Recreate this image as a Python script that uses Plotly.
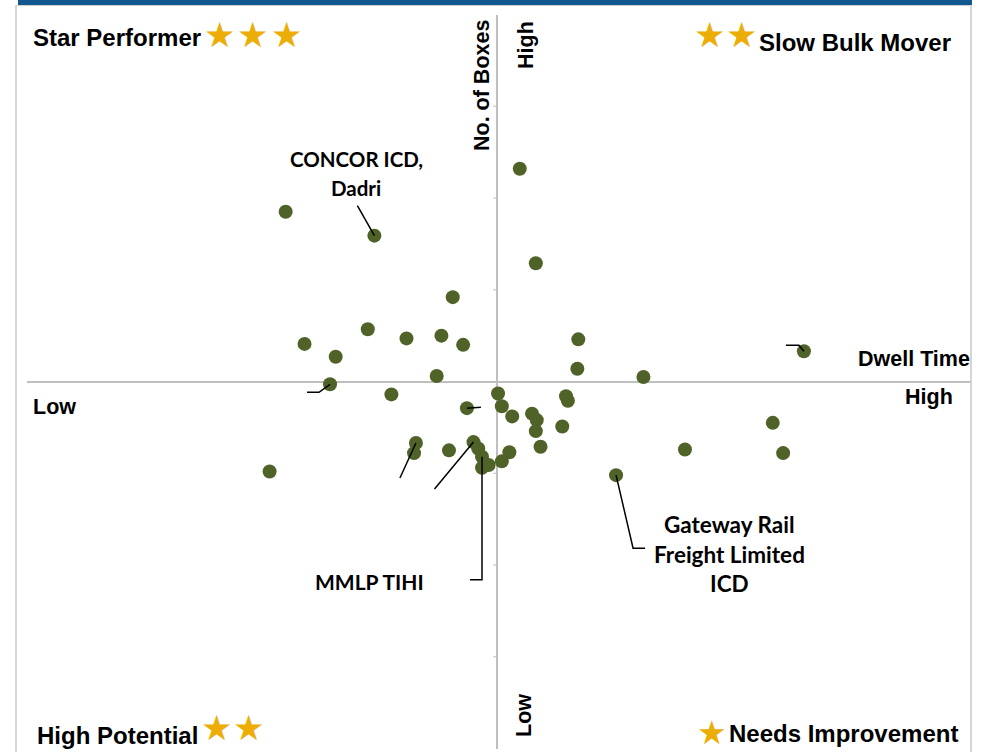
import plotly.graph_objects as go

# ---- data (relative units: x = dwell time, y = no. of boxes; 0 = average) ----
dwell = [-22.4, -13.0, -4.7, -20.4, -17.1, -13.7, -9.6, -5.9, -3.6, -6.4, -17.7, -11.2,
         2.4, 4.1, 8.6, 8.5, 15.5, 32.5,
         -24.1, -3.2, -8.6, -8.8, -5.1, -2.5, -2.0, -1.6, -1.6, -0.9,
         0.1, 0.5, 1.6, 3.7, 4.2, 4.1, 7.3, 7.5, 6.9, 4.6, 1.3, 0.5, 12.6, 19.9, 29.2, 30.3]
boxes = [18.5, 15.9, 9.2, 4.1, 2.7, 5.7, 4.7, 5.0, 4.0, 0.6, -0.3, -1.4,
         23.2, 12.9, 4.6, 1.4, 0.5, 3.3,
         -9.8, -2.9, -6.7, -7.8, -7.5, -6.6, -7.3, -8.2, -9.4, -9.1,
         -1.3, -2.7, -3.8, -3.5, -4.2, -5.4, -1.6, -2.1, -4.9, -7.1, -7.7, -8.7, -10.2, -7.4, -4.5, -7.8]
labelled = {1: ["CONCOR ICD,", "Dadri"],
            40: ["Gateway Rail", "Freight Limited", "ICD"],
            25: ["MMLP TIHI"]}
quadrants = ["Star Performer", "Slow Bulk Mover", "High Potential", "Needs Improvement"]
quadrant_stars = [3, 2, 2, 1]
x_axis_title, y_axis_title = "Dwell Time", "No. of Boxes"

# ---- geometry helpers ----
W, H = 982, 752
ML, MR, MT, MB = 27, 11, 15, 3
PW, PH = W - ML - MR, H - MT - MB
XR = [-49.8, 50.2]
YR = [-40.05, 39.95]
XS = PW / (XR[1] - XR[0])
YS = PH / (YR[1] - YR[0])


def px(x):
    return (x - ML) / PW


def py(y):
    return (H - MB - y) / PH


fig = go.Figure()
fig.add_trace(go.Scatter(x=dwell, y=boxes, mode="markers",
                         marker=dict(size=14, color="#4f6228", line=dict(width=0)),
                         hoverinfo="skip", showlegend=False))

shapes = []
# leader lines: point index -> pixel offsets of successive vertices
leaders = {1: [(-17, -30)], 40: [(17, 73), (29, 73)], 25: [(0, 123), (-12, 123)],
           20: [(-16, 35)], 23: [(-39, 47)], 10: [(-11, 8), (-23, 8)],
           19: [(14, -1)], 17: [(-5, -6), (-18, -6)]}
for i, offs in leaders.items():
    x0, y0 = dwell[i], boxes[i]
    path = f"M {x0} {y0}"
    for dx, dy in offs:
        path += f" L {x0 + dx / XS} {y0 - dy / YS}"
    shapes.append(dict(type="path", path=path, xref="x", yref="y",
                       line=dict(color="black", width=1.5)))

# minor ticks on vertical axis
for t in [-30, -20, -10, 10, 20, 30]:
    shapes.append(dict(type="line", xref="x", yref="y", xsizemode="pixel", xanchor=0,
                       x0=-4, x1=0, y0=t, y1=t, line=dict(color="#bfbfbf", width=1)))

# frame and top bar
shapes += [
    dict(type="rect", xref="paper", yref="paper", x0=px(18), x1=px(972), y0=py(5), y1=py(0),
         fillcolor="#12578f", line=dict(width=0), layer="above"),
    dict(type="line", xref="paper", yref="paper", x0=px(16), x1=px(16), y0=py(5), y1=py(752),
         line=dict(color="#c8c8c8", width=1.5)),
    dict(type="line", xref="paper", yref="paper", x0=px(971), x1=px(971), y0=py(5), y1=py(752),
         line=dict(color="#c8c8c8", width=1.5)),
    dict(type="line", xref="paper", yref="paper", x0=px(16), x1=px(971), y0=py(5.5), y1=py(5.5),
         line=dict(color="#d0d0d0", width=1)),
]

ann = []
ARIAL = "Liberation Sans, Arial, sans-serif"
LBL = "Lato, Carlito, Calibri, sans-serif"
STAR = "#ecae06"


def text(s, x, y, size, xa="left", ya="middle", angle=0, family=ARIAL, color="black"):
    ann.append(dict(text=s, x=px(x), y=py(y), xref="paper", yref="paper", showarrow=False,
                    xanchor=xa, yanchor=ya, textangle=angle, borderpad=0,
                    font=dict(family=family, size=size, color=color)))


def bold(s):
    return f"<b>{s}</b>"


SSZ = 35
# quadrant titles
text(bold(quadrants[0]), 32, 37, 24)
for sx in [219, 252, 286][:quadrant_stars[0]]:
    text("★", sx, 35, SSZ, xa="center", family="DejaVu Sans", color=STAR)
text(bold(quadrants[1]), 758, 42, 24)
for sx in [709, 741][:quadrant_stars[1]]:
    text("★", sx, 35, SSZ, xa="center", family="DejaVu Sans", color=STAR)
text(bold(quadrants[2]), 36, 735, 24)
for sx in [216, 248][:quadrant_stars[2]]:
    text("★", sx, 728, SSZ, xa="center", family="DejaVu Sans", color=STAR)
text(bold(quadrants[3]), 728, 733, 24)
for sx in [712][:quadrant_stars[3]]:
    text("★", sx, 732, 33, xa="center", family="DejaVu Sans", color=STAR)

# axis labels
text(bold(y_axis_title), 482, 86, 21.5, xa="center", angle=-90)
text(bold("High"), 526, 45, 21.5, xa="center", angle=-90)
text(bold("Low"), 524, 716, 21.5, xa="center", angle=-90)
text(bold(x_axis_title), 971, 359, 21.5, xa="right")
text(bold("High"), 929, 397, 21.5, xa="center")
text(bold("Low"), 32, 407, 21.5)

# point labels
label_pos = {1: (356, [159, 188], 20.5), 40: (729, [524, 554, 583], 22.5), 25: (369, [581], 21)}
for i, lines in labelled.items():
    cx, ys, fs = label_pos[i]
    for ln, yy in zip(lines, ys):
        text(bold(ln), cx, yy, fs, xa="center", family=LBL)

fig.update_layout(
    width=W, height=H, margin=dict(l=ML, r=MR, t=MT, b=MB),
    paper_bgcolor="white", plot_bgcolor="white",
    xaxis=dict(range=XR, showgrid=False, showticklabels=False, ticks="", zeroline=True,
               zerolinecolor="#bfbfbf", zerolinewidth=2, showline=False, fixedrange=True),
    yaxis=dict(range=YR, showgrid=False, showticklabels=False, ticks="", zeroline=True,
               zerolinecolor="#bfbfbf", zerolinewidth=2, showline=False, fixedrange=True),
    shapes=shapes, annotations=ann,
)
fig.write_html("out.html", config={"displayModeBar": False},
               post_script="document.body.style.margin='0';document.body.style.overflow='hidden';")
